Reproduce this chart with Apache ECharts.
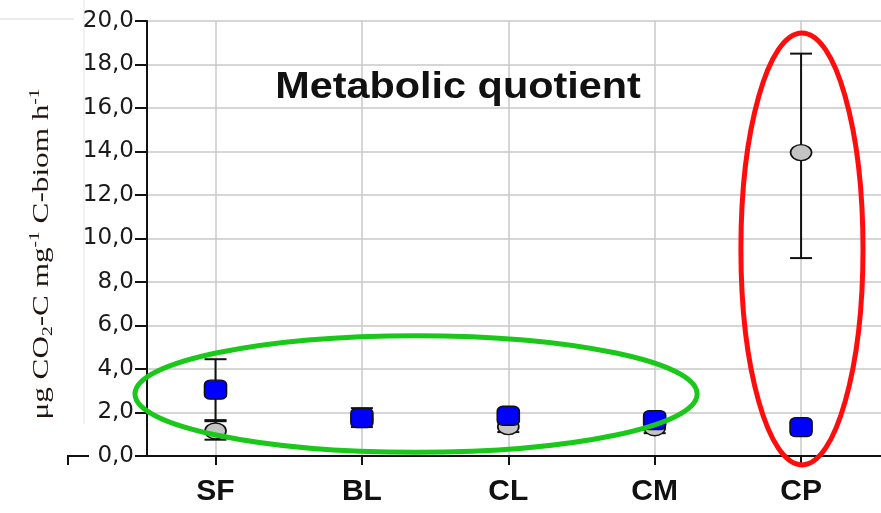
<!DOCTYPE html>
<html>
<head>
<meta charset="utf-8">
<script src="https://cdn.jsdelivr.net/npm/echarts@6/dist/echarts.min.js"></script>
<style>
  html, body { margin: 0; padding: 0; background: #fff; }
  #chart { width: 881px; height: 513px; }
</style>
</head>
<body>
<div id="chart"></div>
<script>
// Sites along the x axis
const categories = ['SF', 'BL', 'CL', 'CM', 'CP'];

// Grey circles: mean with lower / upper error limits
const greyMean = [1.15, 1.7, 1.35, 1.3, 13.95];
const greyLow  = [0.75, 1.5, 1.1, 1.05, 9.1];
const greyHigh = [1.6, 1.9, 1.6, 1.55, 18.5];

// Blue squares: mean with lower / upper error limits
const blueMean = [3.05, 1.75, 1.85, 1.65, 1.33];
const blueLow  = [1.65, 1.33, 1.6, 1.35, 1.0];
const blueHigh = [4.45, 2.2, 2.1, 1.85, 1.6];

// Highlight ellipses, in data units: [centerX, centerY, radiusX, radiusY]
const greenRing = [2.37, 2.85, 1.92, 2.68];
const redRing = [5.006, 9.52, 0.417, 9.93];

const catIndex = categories.map((c, i) => i + 1);
const fmtNum = v => v.toFixed(1).replace('.', ',');

const chart = echarts.init(document.getElementById('chart'), null, { renderer: 'canvas' });

function errorBars(low, high) {
  return {
    type: 'custom',
    animation: false,
    silent: true,
    data: catIndex.map((x, i) => [x, low[i], high[i]]),
    renderItem(params, api) {
      const x = api.value(0);
      const pLo = api.coord([x, api.value(1)]);
      const pHi = api.coord([x, api.value(2)]);
      const hw = 11;
      const st = { stroke: '#111', lineWidth: 2 };
      return {
        type: 'group',
        children: [
          { type: 'line', shape: { x1: pLo[0], y1: pLo[1], x2: pHi[0], y2: pHi[1] }, style: st },
          { type: 'line', shape: { x1: pLo[0] - hw, y1: pLo[1], x2: pLo[0] + hw, y2: pLo[1] }, style: st },
          { type: 'line', shape: { x1: pHi[0] - hw, y1: pHi[1], x2: pHi[0] + hw, y2: pHi[1] }, style: st }
        ]
      };
    }
  };
}

const option = {
  animation: false,
  backgroundColor: '#ffffff',
  grid: { left: 147, right: 0, top: 21, bottom: 57, containLabel: false },
  xAxis: {
    type: 'value',
    min: 0.532,
    max: 5.546,
    axisLine: { show: true, onZero: false, lineStyle: { color: '#111', width: 2 } },
    axisTick: { show: true, customValues: catIndex, length: 9, lineStyle: { color: '#111', width: 2 } },
    axisLabel: {
      show: true,
      customValues: catIndex,
      formatter: v => categories[Math.round(v) - 1] || '',
      fontFamily: '"Liberation Sans", Arial, sans-serif',
      fontWeight: 'bold',
      fontSize: 30,
      color: '#111',
      margin: 21
    },
    splitLine: { show: true, lineStyle: { color: '#c8c8c8', width: 1.5 } }
  },
  yAxis: {
    type: 'value',
    min: 0,
    max: 20,
    interval: 2,
    axisLine: { show: true, onZero: false, lineStyle: { color: '#111', width: 2 } },
    axisTick: { show: true, length: 12, lineStyle: { color: '#111', width: 2 } },
    axisLabel: {
      formatter: v => fmtNum(v),
      fontFamily: '"DejaVu Sans", Verdana, sans-serif',
      fontSize: 23,
      color: '#1a1a1a',
      margin: 13
    },
    splitLine: { show: true, lineStyle: { color: '#c8c8c8', width: 1.5 } }
  },
  series: [
    errorBars(greyLow, greyHigh),
    {
      type: 'scatter',
      name: 'grey',
      data: catIndex.map((x, i) => [x, greyMean[i]]),
      symbol: 'circle',
      symbolSize: [21, 16],
      itemStyle: { color: '#c4c4c4', borderColor: '#111', borderWidth: 1.5, opacity: 1 },
      z: 3
    },
    errorBars(blueLow, blueHigh),
    {
      type: 'scatter',
      name: 'blue',
      data: catIndex.map((x, i) => [x, blueMean[i]]),
      symbol: 'roundRect',
      symbolSize: [22, 19],
      itemStyle: { color: '#0000ff', borderColor: '#111', borderWidth: 1.5, opacity: 1 },
      z: 4
    }
  ]
};

chart.setOption(option);

// Overlay: title, y axis name, axis corner and the two highlight rings
function ring(spec, color) {
  const c = chart.convertToPixel({ gridIndex: 0 }, [spec[0], spec[1]]);
  const e = chart.convertToPixel({ gridIndex: 0 }, [spec[0] + spec[2], spec[1] + spec[3]]);
  return {
    type: 'ellipse',
    silent: true,
    z: 100,
    shape: { cx: c[0], cy: c[1], rx: Math.abs(e[0] - c[0]), ry: Math.abs(c[1] - e[1]) },
    style: { fill: 'none', stroke: color, lineWidth: 5 }
  };
}

const origin = chart.convertToPixel({ gridIndex: 0 }, [0.532, 0]);
const serif = '"Liberation Serif", "Times New Roman", serif';

chart.setOption({
  graphic: [
    // faint frame lines at the top left
    { type: 'line', silent: true, z: -1, shape: { x1: 0, y1: 19, x2: 74, y2: 19 }, style: { stroke: '#e4e4e4', lineWidth: 1.5 } },
    { type: 'line', silent: true, z: -1, shape: { x1: 84, y1: 0, x2: 84, y2: 424 }, style: { stroke: '#ececec', lineWidth: 1.5 } },
    {
      type: 'text',
      x: 458, y: 88,
      silent: true,
      z: 50,
      scaleX: 1.15,
      style: {
        text: 'Metabolic quotient',
        font: 'bold 36px "Liberation Sans", Arial, sans-serif',
        fill: '#111',
        align: 'center',
        verticalAlign: 'middle'
      }
    },
    {
      type: 'text',
      x: 42, y: 254,
      rotation: Math.PI / 2,
      scaleX: 1.3,
      silent: true,
      z: 50,
      style: {
        text: '{n|μg CO}{sub|2}{n|-C mg}{sup|-1}{n| C-biom h}{sup|-1}',
        align: 'center',
        verticalAlign: 'middle',
        fill: '#221510',
        rich: {
          n: { fontFamily: serif, fontSize: 24, fill: '#221510', lineHeight: 28 },
          sub: { fontFamily: serif, fontSize: 15, fill: '#221510', verticalAlign: 'bottom', lineHeight: 28 },
          sup: { fontFamily: serif, fontSize: 15, fill: '#221510', verticalAlign: 'top', lineHeight: 28 }
        }
      }
    },
    // short extension of the x axis to the left of the zero label
    {
      type: 'polyline',
      silent: true,
      shape: { points: [[origin[0] - 79, origin[1] + 9], [origin[0] - 79, origin[1]], [origin[0] - 58, origin[1]]] },
      style: { stroke: '#111', lineWidth: 2, fill: 'none' }
    },
    ring(greenRing, '#19c819'),
    ring(redRing, '#ff0d0d')
  ]
});
</script>
</body>
</html>
